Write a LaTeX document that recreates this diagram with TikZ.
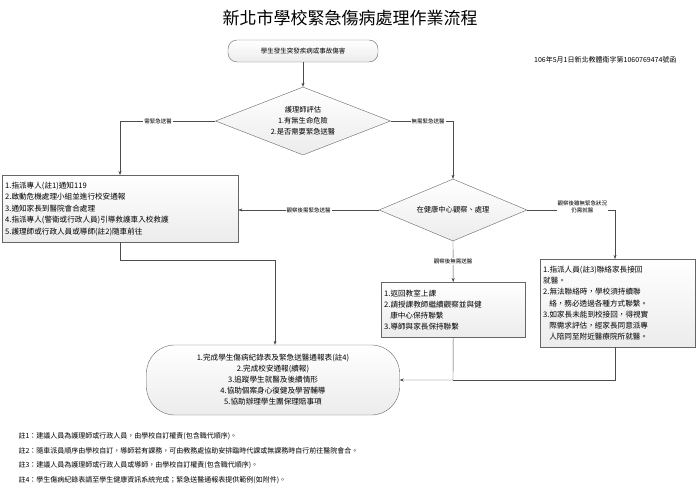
\documentclass[tikz,border=0pt]{standalone}
\usepackage{fontspec}
\setmainfont{Noto Sans CJK TC}
\usetikzlibrary{shapes.geometric,positioning,arrows.meta}

\begin{document}
\begin{tikzpicture}[
  x=1pt,y=-1pt,
  txt/.style={font=\fontsize{7}{9}\selectfont},
  box/.style={draw=gray!80!black,top color=white,bottom color=gray!15,align=left,inner sep=3pt,font=\fontsize{7.6}{11.5}\selectfont},
  decision/.style={draw=gray!80!black,top color=white,bottom color=gray!15,diamond,aspect=2.5,inner sep=1pt,align=center,font=\fontsize{7.3}{11}\selectfont},
  lbl/.style={fill=white,inner sep=1pt,font=\fontsize{5.5}{7}\selectfont,align=center},
  flow/.style={draw=gray!60!black,-{Stealth[length=4pt]}},
  ]
  \useasboundingbox (0,0) rectangle (700,487);
  %Title
  \node[font=\fontsize{17}{20}\selectfont] (title) at (350,18) {新北市學校緊急傷病處理作業流程};
  \node[txt,anchor=east] (doc) at (680,60) {106年5月1日新北教體衛字第1060769474號函};
  %Nodes
  \node[draw=gray!80!black,top color=white,bottom color=gray!15,rounded corners=9pt,minimum width=150pt,minimum height=22pt,font=\fontsize{6.5}{8}\selectfont] (start) at (303,51) {學生發生突發疾病或事故傷害};
  \node[decision,minimum width=175pt,minimum height=68pt] (eval) at (303,121) {護理師評估\\1.有無生命危險\\2.是否需要緊急送醫};
  \node[box,text width=230pt,minimum height=67pt,anchor=north west] (urgent) at (2,175) {1.指派專人(註1)通知119\\2.啟動危機處理小組並進行校安通報\\3.通知家長到醫院會合處理\\4.指派專人(警衛或行政人員)引導救護車入校救護\\5.護理師或行政人員或導師(註2)隨車前往};
  \node[decision,minimum width=148pt,minimum height=62pt] (observe) at (453,210) {在健康中心觀察、處理};
  \node[box,text width=138pt,minimum height=55pt,anchor=north west,font=\fontsize{7.6}{11}\selectfont] (back) at (381,282) {1.返回教室上課\\2.請授課教師繼續觀察並與健\\\hspace*{0.8em}康中心保持聯繫\\3.導師與家長保持聯繫};
  \node[box,text width=149pt,minimum height=88pt,anchor=north west,font=\fontsize{7.6}{11.2}\selectfont] (parent) at (540,259) {1.指派人員(註3)聯絡家長接回\\就醫。\\2.無法聯絡時，學校須持續聯\\\hspace*{0.8em}絡，務必透過各種方式聯繫。\\3.如家長未能到校接回，得視實\\\hspace*{0.8em}際需求評估，經家長同意派專\\\hspace*{0.8em}人陪同至附近醫療院所就醫。};
  \node[draw=gray!80!black,top color=white,bottom color=gray!15,rounded corners=28pt,minimum width=253pt,minimum height=70pt,align=center,font=\fontsize{7.6}{11}\selectfont] (finish) at (273,380) {1.完成學生傷病紀錄表及緊急送醫通報表(註4)\\2.完成校安通報(續報)\\3.追蹤學生就醫及後續情形\\4.協助個案身心復健及學習輔導\\5.協助辦理學生團保理賠事項};
  \coordinate (j1) at (453,380);
  %Lines
  \draw[flow] (start) -- (eval);
  \draw[flow] (eval.west) -| node[lbl,pos=0.3]{需緊急送醫} (urgent.north -| 120,0);
  \draw[flow] (eval.east) -| node[lbl,pos=0.3]{無需緊急送醫} (observe.north);
  \draw[flow] (observe.west) -- node[lbl]{觀察後需緊急送醫} (urgent.east |- observe.west);
  \draw[flow] (observe.south) -- node[lbl,pos=0.5]{觀察後無需送醫} (back.north);
  \draw[flow] (observe.east) -| node[lbl,pos=0.45,above left=-4pt and -2pt]{觀察後雖無緊急狀況\\仍需就醫} (parent.north -| 615,0);
  \draw[flow] (urgent.south -| 120,0) |- (275,260) -- (finish.north -| 275,0);
  \draw[flow] (back.south) -- (j1) -- (finish.east);
  \draw[draw=gray!60!black] (parent.south -| 615,0) |- (j1);
  %Notes
  \foreach \i/\t in {1/建議人員為護理師或行政人員，由學校自訂權責(包含職代順序)。,
    2/隨車派員順序由學校自訂，導師若有課務，可由教務處協助安排臨時代課或無課務時自行前往醫院會合。,
    3/建議人員為護理師或行政人員或導師，由學校自訂權責(包含職代順序)。,
    4/學生傷病紀錄表請至學生健康資訊系統完成；緊急送醫通報表提供範例(如附件)。}
    \node[txt,anchor=west] (note\i) at (15,422+14.5*\i) {註\i：\t};
\end{tikzpicture}
\end{document}
